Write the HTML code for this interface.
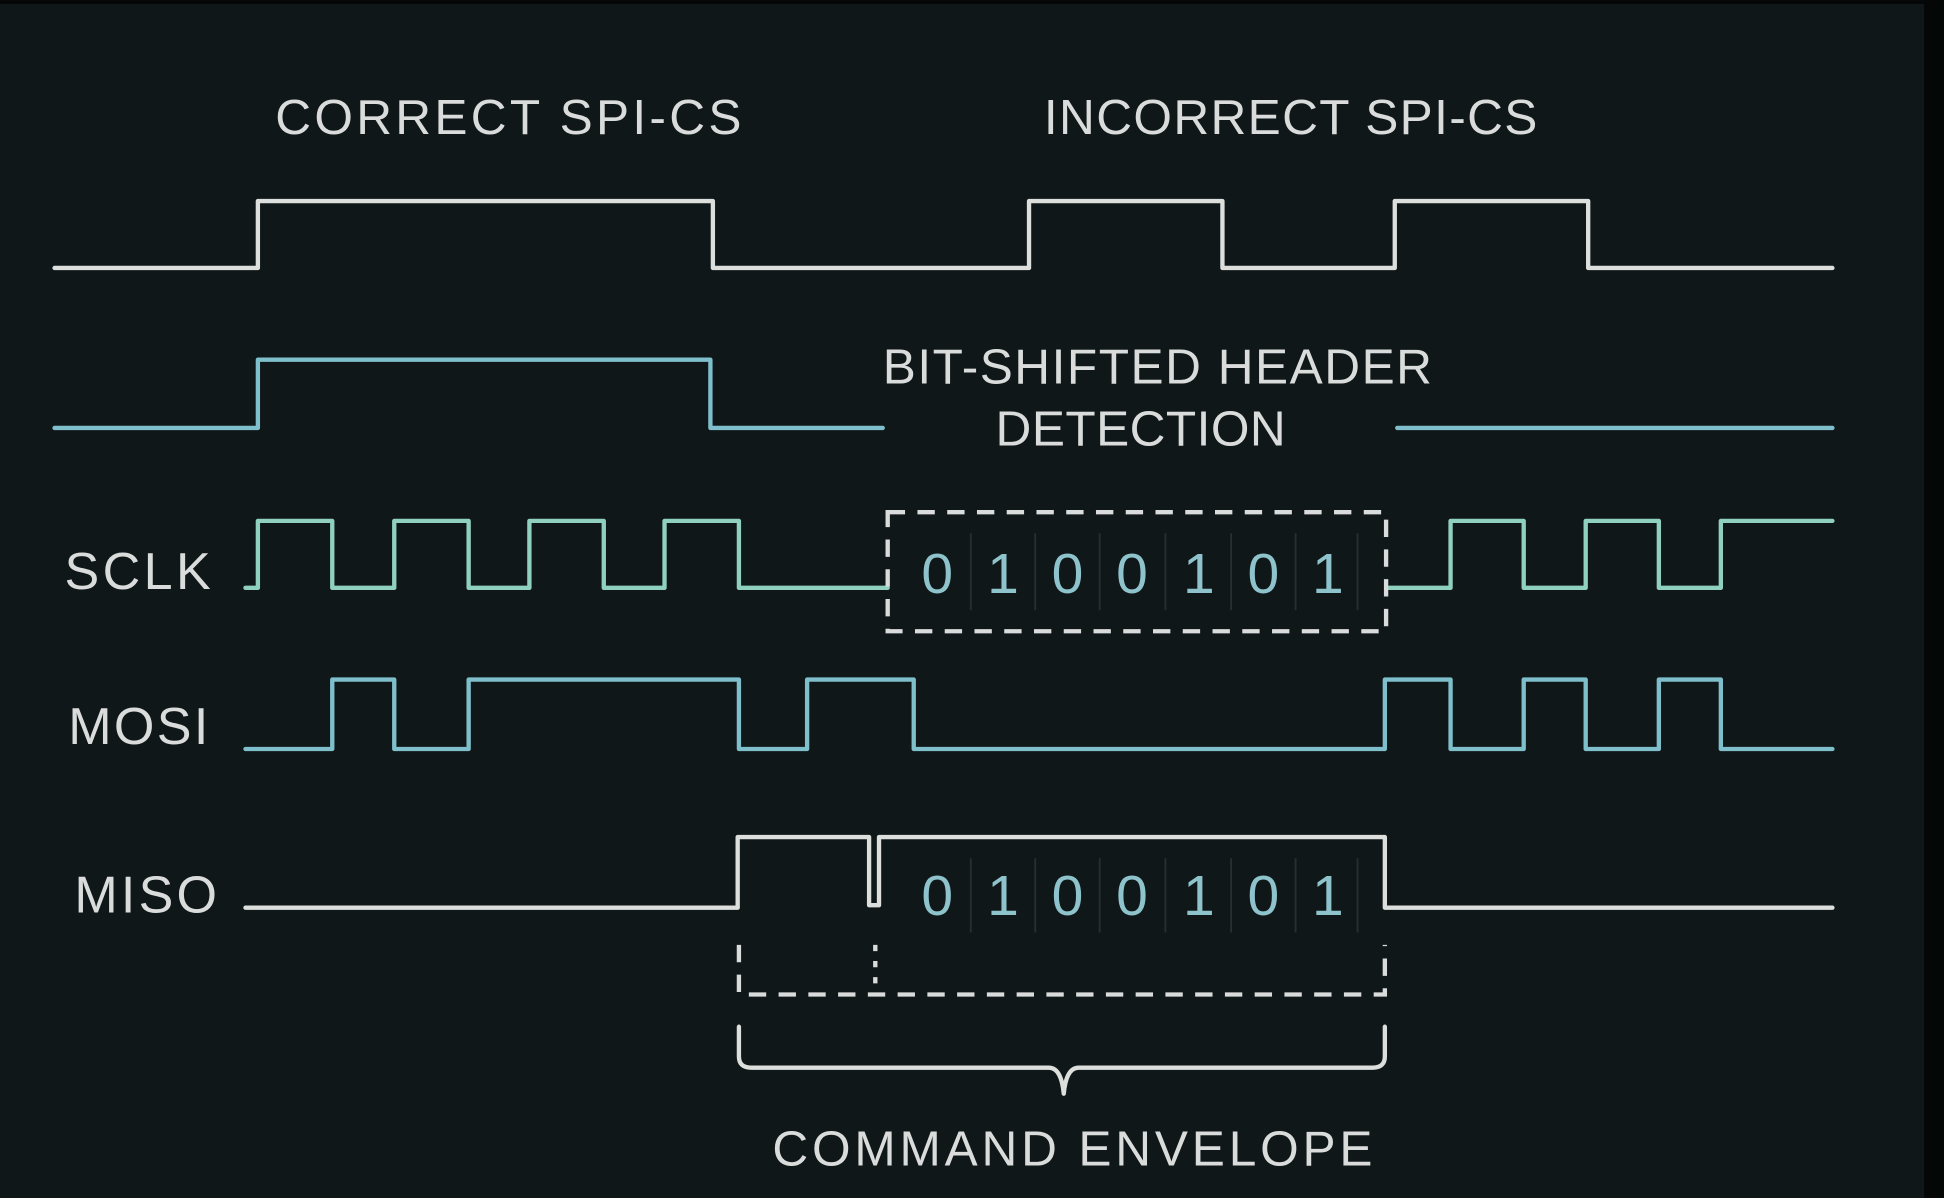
<!DOCTYPE html>
<html><head><meta charset="utf-8"><style>
html,body{margin:0;padding:0;background:#0f1719;}
svg{display:block;}
</style></head><body>
<svg width="1944" height="1198" viewBox="0 0 1568 966" xmlns="http://www.w3.org/2000/svg">
<rect x="0" y="0" width="1568" height="966" fill="#0f1719"/>
<rect x="1552" y="0" width="16" height="966" fill="#050707"/>
<rect x="0" y="0" width="1568" height="3" fill="#050707"/>
<g font-family="Liberation Sans, DejaVu Sans, sans-serif" fill="#d9dcda" font-size="40" lengthAdjust="spacing">
<text x="222" y="108" textLength="376" lengthAdjust="spacing">CORRECT SPI-CS</text>
<text x="842" y="108" textLength="398" lengthAdjust="spacing">INCORRECT SPI-CS</text>
<text x="712" y="309" textLength="443" lengthAdjust="spacing">BIT-SHIFTED HEADER</text>
<text x="803" y="359" textLength="234" lengthAdjust="spacing">DETECTION</text>
<text x="623" y="940" textLength="484" lengthAdjust="spacing">COMMAND ENVELOPE</text>
</g>
<g font-family="Liberation Sans, DejaVu Sans, sans-serif" fill="#d9dcda" font-size="42">
<text x="52" y="475" textLength="118" lengthAdjust="spacing">SCLK</text>
<text x="55" y="600" textLength="113" lengthAdjust="spacing">MOSI</text>
<text x="60" y="736" textLength="115" lengthAdjust="spacing">MISO</text>
</g>
<g fill="none" stroke-width="3.5" stroke-linejoin="round" stroke-linecap="round">
<path stroke="#dcdfdc" d="M44 216 H208 V162 H575 V216 H830 V162 H986 V216 H1125 V162 H1281 V216 H1478"/>
<path stroke="#7fbfcb" d="M44 345 H208 V290 H573 V345 H712 M1127 345 H1478"/>
<path stroke="#8fd0be" d="M198 474 H208 V420 H268 V474 H318 V420 H378 V474 H427 V420 H487 V474 H536 V420 H596 V474 H716 M1118 474 H1170 V420 H1229 V474 H1279 V420 H1338 V474 H1388 V420 H1478"/>
<path stroke="#7fbfcb" d="M198 604 H268 V548 H318 V604 H378 V548 H596 V604 H651 V548 H737 V604 H1117 V548 H1170 V604 H1229 V548 H1279 V604 H1338 V548 H1388 V604 H1478"/>
<path stroke="#dcdfdc" d="M198 732 H595 V675 H701 V730 H709 V675 H1117 V732 H1478"/>
<path stroke="#dcdfdc" d="M596 828 V852 Q596 861 606 861 H846 Q856 861 858 882 Q860 861 870 861 H1107 Q1117 861 1117 852 V828"/>
</g>
<g fill="none" stroke="#d9dcda" stroke-width="3.5" stroke-dasharray="14 10">
<rect x="716" y="413" width="402" height="96"/>
<path d="M596 762 V802 H1117 V762"/>
</g>
<path d="M706 762 V797" stroke="#d9dcda" stroke-width="3.5" stroke-dasharray="5 8" fill="none"/>
<g stroke="#26302f" stroke-width="1.5">
<path d="M783 430 V492 M835 430 V492 M887 430 V492 M940 430 V492 M993 430 V492 M1045 430 V492 M1095 430 V492"/>
<path d="M783 692 V752 M835 692 V752 M887 692 V752 M940 692 V752 M993 692 V752 M1045 692 V752 M1095 692 V752"/>
</g>
<g font-family="Liberation Sans, DejaVu Sans, sans-serif" fill="#8fc3cc" font-size="46" text-anchor="middle">
<text x="756" y="478">0</text><text x="809" y="478">1</text><text x="861" y="478">0</text><text x="913" y="478">0</text><text x="967" y="478">1</text><text x="1019" y="478">0</text><text x="1071" y="478">1</text>
<text x="756" y="738">0</text><text x="809" y="738">1</text><text x="861" y="738">0</text><text x="913" y="738">0</text><text x="967" y="738">1</text><text x="1019" y="738">0</text><text x="1071" y="738">1</text>
</g>
</svg>
</body></html>
